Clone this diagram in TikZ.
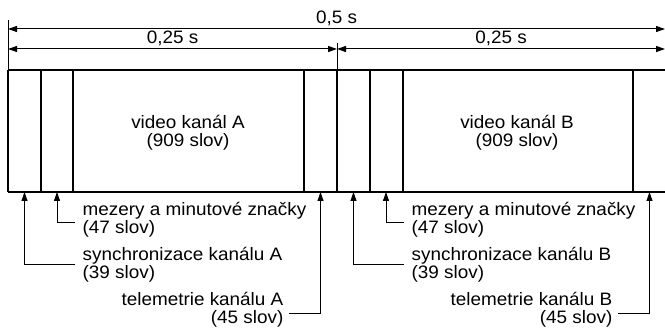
\documentclass[tikz,border=0pt]{standalone}
\usepackage{fontspec}
\setmainfont{Liberation Sans}[FakeStretch=1.05]
\usetikzlibrary{arrows.meta, positioning}

\begin{document}
\begin{tikzpicture}[x=1pt, y=-1pt, line width=1.3pt,
    txt/.style={font=\fontsize{18}{18}\selectfont, inner sep=0pt},
    lead/.style={line width=0.8pt, -{Triangle[length=9pt,width=6pt]}},
    dim/.style={line width=1pt, {Triangle[length=9pt,width=6pt]}-{Triangle[length=9pt,width=6pt]}}]
    \useasboundingbox (0,0) rectangle (665,331);
    \def\ytop{70} \def\ybot{192}

    % kotovani casu
    \coordinate (t0) at (8,20);   \coordinate (t1) at (8,\ytop);
    \coordinate (m0) at (337,43); \coordinate (m1) at (337,\ytop);
    \draw[line width=1pt] (t0) -- (t1);
    \draw[line width=1pt] (m0) -- (m1);
    \coordinate (a0) at (8,29);  \coordinate (a1) at (665,29);
    \coordinate (b0) at (8,49);  \coordinate (b1) at (337,49); \coordinate (b2) at (665,49);
    \draw[dim] (a0) -- (a1) node[midway, above=2.5pt, txt] (cel) {0,5 s};
    \draw[dim] (b0) -- (b1) node[midway, above=2.5pt, txt] (pulA) {0,25 s};
    \draw[dim] (b1) -- (b2) node[midway, above=2.5pt, txt] (pulB) {0,25 s};

    % ramec
    \draw (8,\ytop) -- (665,\ytop);
    \draw (8,\ybot) -- (665,\ybot);
    \foreach \x in {8,41,73,304,337,370,403,633}
        \draw (\x,\ytop) -- (\x,\ybot);

    % kanaly A a B
    \foreach \ch/\dx in {A/0, B/329} {
    \begin{scope}[xshift=\dx]
    \node[txt, align=center] (vid\ch) at (188,133) {video kanál \ch\\(909 slov)};
    \node[txt, align=left, anchor=base west] (mez\ch) at (82,234) {mezery a minutové značky\\(47 slov)};
    \node[txt, align=left, anchor=base west] (syn\ch) at (82,279) {synchronizace kanálu \ch\\(39 slov)};
    \node[txt, align=right, anchor=base east] (tel\ch) at (284,324) {telemetrie kanálu \ch\\(45 slov)};
    \coordinate (ps\ch) at (24.5,\ybot);
    \coordinate (pm\ch) at (57,\ybot);
    \coordinate (pt\ch) at (320.5,\ybot);
    \coordinate (km\ch) at ([xshift=-7pt,yshift=12pt]mez\ch.base west);
    \coordinate (ks\ch) at ([xshift=-7pt,yshift=15pt]syn\ch.base west);
    \coordinate (kt\ch) at ([xshift=5pt,yshift=11pt]tel\ch.base east);
    \draw[lead] (km\ch) -| (pm\ch);
    \draw[lead] (ks\ch) -| (ps\ch);
    \draw[lead] (kt\ch) -| (pt\ch);
    \end{scope}
    }
\end{tikzpicture}
\end{document}
